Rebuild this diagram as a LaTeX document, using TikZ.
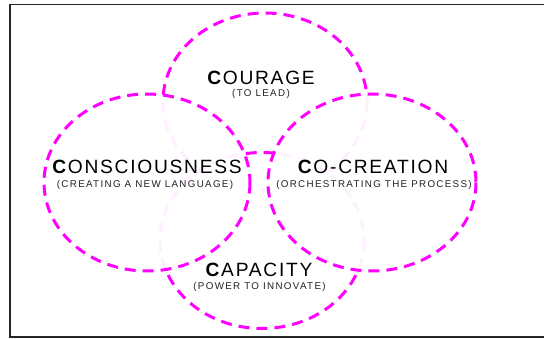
\documentclass[tikz,border=0pt]{standalone}
\usepackage{fontspec}
\setmainfont{Liberation Sans}
\newfontfamily\titlefont[LetterSpace=9]{Liberation Sans}
\newfontfamily\subfont[LetterSpace=13.5]{Liberation Sans}
\definecolor{vmag}{HTML}{FF00FF}
\definecolor{subgrey}{HTML}{222222}
\tikzset{
  venn/.style={draw=vmag, line width=3pt, dash pattern=on 11pt off 7pt, fill=white, fill opacity=0.94},
  ttl/.style={anchor=base, inner sep=0pt, font=\titlefont\fontsize{19.2}{21}\selectfont, text=black},
  subttl/.style={anchor=base, inner sep=0pt, font=\subfont\fontsize{9.8}{11}\selectfont, text=subgrey},
  frame/.style={draw=black!85, line width=1.6pt}
}
\begin{document}
\begin{tikzpicture}[x=1pt,y=-1pt]
\useasboundingbox (0,0) rectangle (544,339);
\draw[frame] (10,4.7) rectangle (560,337.3);
% circles, drawn back to front
\draw[venn] (265,101.5) ellipse [x radius=102, y radius=88.5];
\draw[venn] (262,240.5) ellipse [x radius=102, y radius=88];
\draw[venn] (147,182.5) ellipse [x radius=103, y radius=88.5];
\draw[venn] (372,182.5) ellipse [x radius=104, y radius=88.5];
% labels
\node[ttl] (courage) at (261,85) {\textbf{C}OURAGE};
\node[subttl] (courageS) at (261,97) {(TO LEAD)};
\node[ttl] (consc) at (147,173.3) {\textbf{C}ONSCIOUSNESS};
\node[subttl] (conscS) at (145,187.4) {(CREATING A NEW LANGUAGE)};
\node[ttl] (cocre) at (373,173.3) {\textbf{C}O-CREATION};
\node[subttl] (cocreS) at (374,187.4) {(ORCHESTRATING THE PROCESS)};
\node[ttl] (capac) at (259,276.3) {\textbf{C}APACITY};
\node[subttl] (capacS) at (259.5,290) {(POWER TO INNOVATE)};
\end{tikzpicture}
\end{document}
